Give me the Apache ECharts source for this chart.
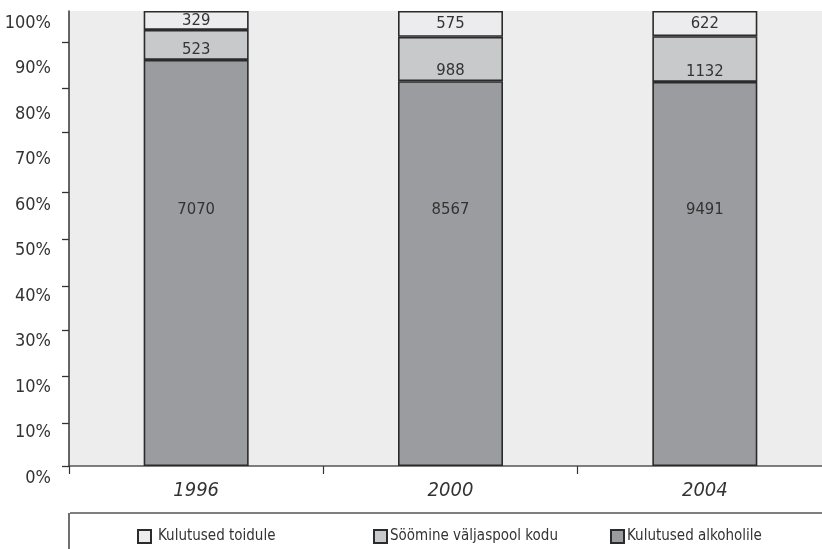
<!DOCTYPE html>
<html>
<head>
<meta charset="utf-8">
<script src="https://cdn.jsdelivr.net/npm/echarts@6/dist/echarts.min.js"></script>
<style>
html,body{margin:0;padding:0;background:#fff;}
#chart{width:822px;height:549px;}
</style>
</head>
<body>
<div id="chart"></div>
<script>
var years = ['1996', '2000', '2004'];
var seriesNames = ['Kulutused toidule', 'Söömine väljaspool kodu', 'Kulutused alkoholile'];
var food = [329, 575, 622];
var eatingOut = [523, 988, 1132];
var alcohol = [7070, 8567, 9491];
var yTickLabels = ['0%', '10%', '10%', '30%', '40%', '50%', '60%', '70%', '80%', '90%', '100%'];
var yTickPositions = [0, 9.5, 19.8, 29.8, 39.5, 49.8, 60.2, 73.4, 83.1, 93.2];

var FONT = "'Noto Sans Condensed', 'Liberation Sans Narrow', 'Arial Narrow', 'DejaVu Sans Condensed', sans-serif";
var totals = years.map(function (_, i) { return food[i] + eatingOut[i] + alcohol[i]; });
function pct(arr) { return arr.map(function (v, i) { return v / totals[i] * 100; }); }
function rawFmt(arr) { return function (p) { return String(arr[p.dataIndex]); }; }

var border = { borderColor: '#2b2b2b', borderWidth: 1.6 };
var labelBase = { show: true, color: '#333', fontSize: 16.5, fontFamily: FONT };

var chart = echarts.init(document.getElementById('chart'), null, { renderer: 'canvas' });
chart.setOption({
  animation: false,
  backgroundColor: '#ffffff',
  textStyle: { fontFamily: FONT },
  grid: {
    left: 69, right: -10, top: 11, bottom: 83,
    outerBoundsMode: 'none',
    show: true, backgroundColor: '#ededed', borderWidth: 0, containLabel: false
  },
  xAxis: {
    type: 'category',
    data: years,
    axisLine: { show: true, lineStyle: { color: '#555', width: 1.6 } },
    axisTick: { show: true, length: 8, lineStyle: { color: '#333', width: 1.2 } },
    axisLabel: { color: '#333', fontSize: 20, fontStyle: 'italic', fontFamily: FONT, margin: 15 },
    splitLine: { show: false }
  },
  yAxis: {
    type: 'value',
    min: 0, max: 100, interval: 10,
    axisLine: { show: true, lineStyle: { color: '#333', width: 1.5 } },
    axisTick: { show: true, length: 7, customValues: yTickPositions, lineStyle: { color: '#333', width: 1.3 } },
    axisLabel: {
      color: '#333', fontSize: 18, fontFamily: FONT, margin: 18,
      verticalAlign: 'top', lineHeight: 24,
      formatter: function (v) { return yTickLabels[Math.round(v / 10)]; }
    },
    splitLine: { show: false }
  },
  legend: [
    { data: [seriesNames[0]], left: 137, top: 529 },
    { data: [seriesNames[1]], left: 373, top: 529 },
    { data: [seriesNames[2]], left: 610, top: 529 }
  ].map(function (l, i) {
    return Object.assign(l, {
      orient: 'horizontal', itemWidth: 13, itemHeight: 13,
      itemGap: 0, padding: 0,
      textStyle: { color: '#333', fontSize: 15, fontFamily: FONT, padding: [0, 0, 0, i === 0 ? 2 : -2] },
      icon: 'rect'
    });
  }),
  graphic: [
    { type: 'line', shape: { x1: 70, y1: 513, x2: 822, y2: 513 }, style: { stroke: '#555', lineWidth: 1.6 } },
    { type: 'line', shape: { x1: 69, y1: 513, x2: 69, y2: 549 }, style: { stroke: '#333', lineWidth: 1.4 } }
  ],
  series: [
    {
      name: seriesNames[2], type: 'bar', stack: 'total', barWidth: 105,
      data: pct(alcohol),
      itemStyle: Object.assign({ color: '#9b9c9f' }, border),
      label: Object.assign({ position: 'insideBottom', distance: 248, formatter: rawFmt(alcohol) }, labelBase)
    },
    {
      name: seriesNames[1], type: 'bar', stack: 'total', barWidth: 105,
      data: pct(eatingOut),
      itemStyle: Object.assign({ color: '#c8c9cb' }, border),
      label: Object.assign({ position: 'insideBottom', distance: 2, formatter: rawFmt(eatingOut) }, labelBase)
    },
    {
      name: seriesNames[0], type: 'bar', stack: 'total', barWidth: 105,
      data: pct(food),
      itemStyle: Object.assign({ color: '#ececee' }, border),
      label: Object.assign({ position: 'inside', formatter: rawFmt(food) }, labelBase)
    }
  ]
});
</script>
</body>
</html>
